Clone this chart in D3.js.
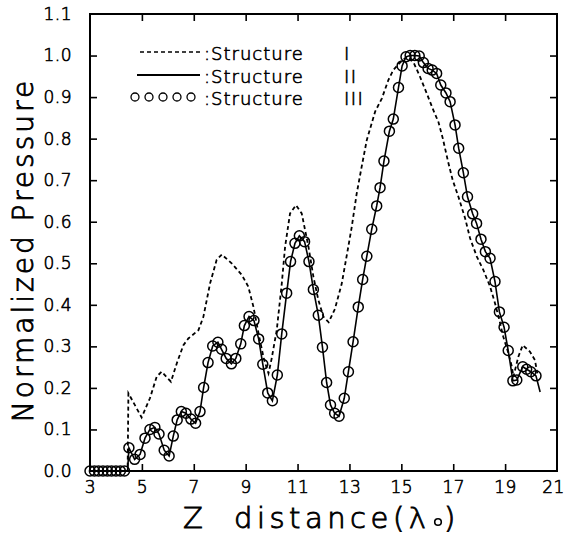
<!DOCTYPE html>
<html><head><meta charset="utf-8">
<script src="https://cdn.jsdelivr.net/npm/d3@7"></script>
<style>html,body{margin:0;padding:0;background:#fff;}svg{display:block;}</style>
</head><body>
<script>
// ---- data ----
const xTickLabels = [3,5,7,9,11,13,15,17,19,21];
const yTickLabels = [0,0.1,0.2,0.3,0.4,0.5,0.6,0.7,0.8,0.9,1.0,1.1];
const legendLabels = [":Structure", ":Structure", ":Structure"];
const legendNumerals = ["I", "II", "III"];

// Structure I (dashed)
const zS1 = [3.0,4.45,4.48,4.99,5.31,5.57,5.76,6.12,6.35,6.60,6.79,7.18,7.37,7.63,7.88,8.08,8.46,8.85,9.10,9.30,9.50,9.70,9.88,10.0,10.2,10.39,10.52,10.71,10.94,11.16,11.29,11.42,11.61,11.80,12.0,12.2,12.44,12.70,12.90,13.09,13.28,13.47,13.67,13.99,14.25,14.50,14.69,14.95,15.21,15.46,15.72,15.98,16.23,16.43,16.60,16.80,16.98,17.20,17.46,17.65,17.91,18.16,18.42,18.61,18.78,18.93,19.13,19.26,19.32,19.51,19.68,19.96,20.15,20.24];
const pS1 = [0,0,0.187,0.129,0.175,0.227,0.239,0.215,0.26,0.303,0.319,0.339,0.371,0.452,0.508,0.521,0.500,0.472,0.444,0.395,0.33,0.27,0.235,0.27,0.34,0.45,0.54,0.62,0.64,0.62,0.58,0.54,0.468,0.412,0.371,0.358,0.39,0.45,0.52,0.588,0.668,0.732,0.797,0.865,0.897,0.941,0.965,0.983,0.997,0.985,0.949,0.909,0.869,0.840,0.800,0.745,0.700,0.660,0.608,0.560,0.516,0.484,0.444,0.404,0.363,0.323,0.283,0.251,0.227,0.275,0.303,0.287,0.267,0.235];

// Structure II (solid)
const zS2 = [3.0,4.45,4.5,4.72,4.93,5.12,5.31,5.50,5.66,5.86,6.05,6.21,6.36,6.52,6.70,6.89,7.07,7.24,7.38,7.55,7.73,7.93,8.07,8.25,8.45,8.62,8.81,8.95,9.13,9.32,9.50,9.66,9.85,10.03,10.22,10.39,10.58,10.73,10.90,11.07,11.27,11.44,11.61,11.80,11.96,12.12,12.27,12.43,12.60,12.80,12.96,13.14,13.34,13.51,13.67,13.86,14.05,14.18,14.33,14.54,14.69,14.89,15.03,15.18,15.34,15.52,15.69,15.85,16.03,16.19,16.36,16.52,16.72,16.88,17.07,17.21,17.39,17.55,17.75,17.90,18.07,18.24,18.42,18.61,18.78,18.96,19.12,19.30,19.45,19.68,19.83,19.99,20.19,20.35];
const pS2 = [0,0,0.056,0.028,0.040,0.079,0.100,0.105,0.089,0.050,0.036,0.084,0.123,0.143,0.139,0.125,0.115,0.143,0.201,0.261,0.301,0.310,0.293,0.271,0.258,0.271,0.306,0.350,0.372,0.362,0.318,0.257,0.188,0.169,0.231,0.330,0.428,0.504,0.548,0.566,0.552,0.504,0.437,0.375,0.298,0.213,0.159,0.139,0.132,0.175,0.239,0.311,0.395,0.461,0.517,0.582,0.638,0.682,0.746,0.818,0.847,0.923,0.975,0.997,1.000,1.000,0.999,0.983,0.969,0.965,0.957,0.929,0.910,0.889,0.833,0.777,0.718,0.660,0.619,0.596,0.558,0.528,0.512,0.456,0.383,0.346,0.290,0.217,0.219,0.251,0.245,0.239,0.229,0.190];

// Structure III (circles)
const zS3 = [3.0,3.17,3.33,3.5,3.67,3.83,4.0,4.17,4.33,4.5,4.72,4.93,5.12,5.31,5.50,5.66,5.86,6.05,6.21,6.36,6.52,6.70,6.89,7.07,7.24,7.38,7.55,7.73,7.93,8.07,8.25,8.45,8.62,8.81,8.95,9.13,9.32,9.50,9.66,9.85,10.03,10.22,10.39,10.58,10.73,10.90,11.07,11.27,11.44,11.61,11.80,11.96,12.12,12.27,12.43,12.60,12.80,12.96,13.14,13.34,13.51,13.67,13.86,14.05,14.18,14.33,14.54,14.69,14.89,15.03,15.18,15.34,15.52,15.69,15.85,16.03,16.19,16.36,16.52,16.72,16.88,17.07,17.21,17.39,17.55,17.75,17.90,18.07,18.24,18.42,18.61,18.78,18.96,19.12,19.30,19.45,19.68,19.83,19.99,20.19];
const pS3 = [0,0,0,0,0,0,0,0,0,0.056,0.028,0.040,0.079,0.100,0.105,0.089,0.050,0.036,0.084,0.123,0.143,0.139,0.125,0.115,0.143,0.201,0.261,0.301,0.310,0.293,0.271,0.258,0.271,0.306,0.350,0.372,0.362,0.318,0.257,0.188,0.169,0.231,0.330,0.428,0.504,0.548,0.566,0.552,0.504,0.437,0.375,0.298,0.213,0.159,0.139,0.132,0.175,0.239,0.311,0.395,0.461,0.517,0.582,0.638,0.682,0.746,0.818,0.847,0.923,0.975,0.997,1.000,1.000,0.999,0.983,0.969,0.965,0.957,0.929,0.910,0.889,0.833,0.777,0.718,0.660,0.619,0.596,0.558,0.528,0.512,0.456,0.383,0.346,0.290,0.217,0.219,0.251,0.245,0.239,0.229];

// ---- drawing ----
const W = 567, H = 540;
const L = 90, R = 557, T = 14, B = 471;
const FONT = "'DejaVu Sans', sans-serif";
const FW = 200;

const svg = d3.select("body").append("svg").attr("width", W).attr("height", H);
svg.append("rect").attr("width", W).attr("height", H).attr("fill", "#fff");

const x = d3.scaleLinear().domain([3, 21]).range([L, R]);
const y = d3.scaleLinear().domain([0, 1.1]).range([B, T]);

const xMinor = xTickLabels.slice(1, -1);
const yMinor = yTickLabels.slice(1, -1);

function txt(sel, size, sw, ls) {
  sel.attr("font-family", FONT).attr("font-weight", FW).attr("font-size", size)
    .attr("fill", "#000").attr("stroke", "#000").attr("stroke-width", sw)
    .attr("letter-spacing", ls + "px");
}

function styleAxis(g) {
  g.select(".domain").remove();
  g.selectAll(".tick line").attr("stroke", "#000").attr("stroke-width", 1.6);
}

// bottom axis: inward tick marks + labels
svg.append("g").attr("transform", `translate(0,${B})`)
  .call(d3.axisBottom(x).tickValues(xMinor).tickSize(-7).tickFormat(""))
  .call(styleAxis);
svg.append("g").attr("transform", `translate(0,${B})`)
  .call(d3.axisBottom(x).tickValues(xTickLabels).tickSize(0).tickPadding(10).tickFormat(d3.format("d")))
  .call(styleAxis)
  .call(g => g.selectAll("text").call(txt, 17, 0.6, 0.5).attr("dy", "0.71em")
    .attr("dx", d => d === 21 ? -4 : 0));
// top axis
svg.append("g").attr("transform", `translate(0,${T})`)
  .call(d3.axisTop(x).tickValues(xMinor).tickSize(-7).tickFormat(""))
  .call(styleAxis);
// left axis
svg.append("g").attr("transform", `translate(${L},0)`)
  .call(d3.axisLeft(y).tickValues(yMinor).tickSize(-7).tickFormat(""))
  .call(styleAxis);
svg.append("g").attr("transform", `translate(${L},0)`)
  .call(d3.axisLeft(y).tickValues(yTickLabels).tickSize(0).tickPadding(18).tickFormat(d3.format(".1f")))
  .call(styleAxis)
  .call(g => g.selectAll("text").call(txt, 17, 0.6, 0.5));
// right axis
svg.append("g").attr("transform", `translate(${R},0)`)
  .call(d3.axisRight(y).tickValues(yMinor).tickSize(-7).tickFormat(""))
  .call(styleAxis);

// frame
svg.append("rect").attr("x", L).attr("y", T).attr("width", R - L).attr("height", B - T)
  .attr("fill", "none").attr("stroke", "#000").attr("stroke-width", 2);

const line = d3.line().x(d => x(d[0])).y(d => y(d[1]));
const s1 = zS1.map((z, i) => [z, pS1[i]]);
const s2 = zS2.map((z, i) => [z, pS2[i]]);
const s3 = zS3.map((z, i) => [z, pS3[i]]);

svg.append("path").datum(s1).attr("d", line)
  .attr("fill", "none").attr("stroke", "#000").attr("stroke-width", 1.8).attr("stroke-dasharray", "4,3");
svg.append("path").datum(s2).attr("d", line)
  .attr("fill", "none").attr("stroke", "#000").attr("stroke-width", 1.6);
svg.append("g").selectAll("circle").data(s3).join("circle")
  .attr("cx", d => x(d[0])).attr("cy", d => y(d[1])).attr("r", 5)
  .attr("fill", "none").attr("stroke", "#000").attr("stroke-width", 1.5);

// legend
const leg = svg.append("g");
leg.append("line").attr("x1", 140).attr("x2", 200).attr("y1", 52).attr("y2", 52)
  .attr("stroke", "#000").attr("stroke-width", 1.6).attr("stroke-dasharray", "4,3");
leg.append("line").attr("x1", 137).attr("x2", 200).attr("y1", 75).attr("y2", 75)
  .attr("stroke", "#000").attr("stroke-width", 1.8);
leg.selectAll("circle").data(d3.range(5)).join("circle")
  .attr("cx", i => 135 + i * 14).attr("cy", 97).attr("r", 4)
  .attr("fill", "none").attr("stroke", "#000").attr("stroke-width", 1.3);
const legY = [60, 83, 105];
leg.selectAll("text.lab").data(legendLabels).join("text").attr("class", "lab")
  .attr("x", 204).attr("y", (d, i) => legY[i]).text(d => d).call(txt, 18, 0.6, 1);
leg.selectAll("text.num").data(legendNumerals).join("text").attr("class", "num")
  .attr("x", 344).attr("y", (d, i) => legY[i]).text(d => d).call(txt, 18, 0.6, 1.5);

// axis titles
svg.append("text").attr("transform", "translate(33,250) rotate(-90)")
  .attr("text-anchor", "middle").text("Normalized Pressure").call(txt, 28, 0.9, 3);

const xt = svg.append("g");
xt.append("text").attr("x", 183).attr("y", 528).text("Z").call(txt, 29, 0.9, 0);
xt.append("text").attr("x", 234).attr("y", 528).text("distance(λ").call(txt, 29, 0.9, 4.5);
xt.append("circle").attr("cx", 438).attr("cy", 522).attr("r", 3.3)
  .attr("fill", "none").attr("stroke", "#000").attr("stroke-width", 1.6);
xt.append("text").attr("x", 444).attr("y", 528).text(")").call(txt, 29, 0.9, 0);
</script>
</body></html>
